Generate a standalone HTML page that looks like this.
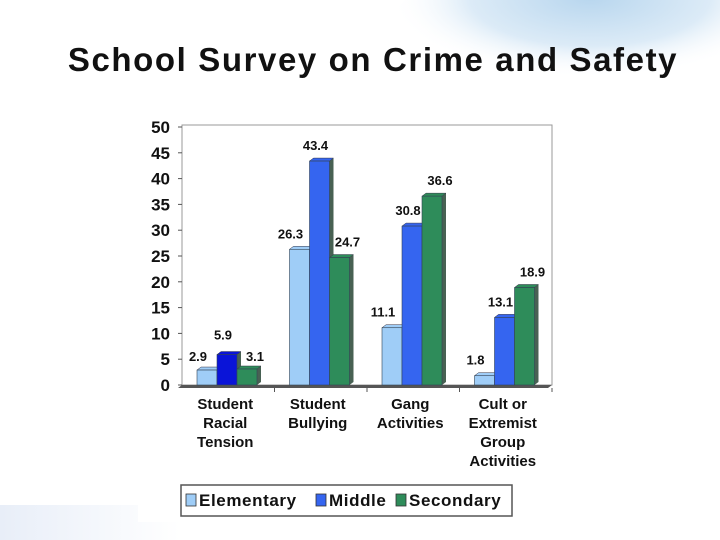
<!DOCTYPE html>
<html><head><meta charset="utf-8"><style>
body{margin:0;width:720px;height:540px;overflow:hidden;background:#fff;font-family:"Liberation Sans",sans-serif;position:relative}
#bg{position:absolute;left:0;top:0;width:720px;height:540px}
#title{position:absolute;left:0;width:746px;top:41px;text-align:center;font-size:33px;font-weight:bold;color:#111;letter-spacing:1.6px}
#chart{position:absolute;left:0;top:0}
</style></head><body>
<svg id="bg" width="720" height="540">
<defs><radialGradient id="cl" cx="0.5" cy="0.3" r="0.5"><stop offset="0" stop-color="#b8d6ee"/><stop offset="0.6" stop-color="#dcebf7"/><stop offset="1" stop-color="#fff" stop-opacity="0"/></radialGradient>
<linearGradient id="bl" x1="0" y1="0" x2="1" y2="0"><stop offset="0" stop-color="#e8eef8"/><stop offset="1" stop-color="#fff"/></linearGradient></defs>
<rect width="720" height="540" fill="#fff"/>
<ellipse cx="590" cy="30" rx="200" ry="80" fill="url(#cl)"/>
<rect x="0" y="505" width="180" height="35" fill="url(#bl)"/>
</svg>
<div id="title">School Survey on Crime and Safety</div>
<svg id="chart" width="720" height="540"></svg>
<script>
const categories=[["Student","Racial","Tension"],["Student","Bullying"],["Gang","Activities"],["Cult or","Extremist","Group","Activities"]];
const seriesNames=["Elementary","Middle","Secondary"];
const elementary=[2.9,26.3,11.1,1.8];
const middle=[5.9,43.4,30.8,13.1];
const secondary=[3.1,24.7,36.6,18.9];
const yTicks=[0,5,10,15,20,25,30,35,40,45,50];
const series=[elementary,middle,secondary];
const colors=["#9fcdf7","#3565f0","#2e8c5a"];
const svg=document.getElementById('chart');
const NS="http://www.w3.org/2000/svg";
function mk(t,a,p){const e=document.createElementNS(NS,t);for(const k in a)e.setAttribute(k,a[k]);(p||svg).appendChild(e);return e;}
const x0=182,x1=552,yb=385,yt=127,ymax=50;
const y=v=>yb-(v/ymax)*(yb-yt);
const catW=(x1-x0)/categories.length;
const bw=20;
const panel=mk('rect',{x:138,y:110,width:422,height:412,fill:'#fff'});


const frame=mk('rect',{x:x0,y:125,width:x1-x0,height:yb-125,fill:'none',stroke:'#999','stroke-width':1});


const floor=mk('polygon',{points:`${x0},${yb} ${x1},${yb} ${x1-4},${yb+3} ${x0-4},${yb+3}`,fill:'#555'});


yTicks.forEach(t=>{
 const tx=mk('text',{x:170,y:y(t)+6,'text-anchor':'end','font-size':17,'font-weight':'bold',fill:'#111'});
 tx.textContent=t;
 
 
 mk('line',{x1:x0-4,x2:x0,y1:y(t),y2:y(t),stroke:'#555'});
});
const labOff=[1,6,18];
categories.forEach((c,i)=>{
 const gx=x0+i*catW+15;
 series.forEach((s,j)=>{
  const v=s[i],bx=gx+j*bw,by=y(v);
  let col=colors[j]; if(i===0&&j===1) col="#0a14d8";
  const g=mk('g',{});
  
  
  mk('polygon',{points:`${bx+bw},${by} ${bx+bw+4},${by-3} ${bx+bw+4},${yb-3} ${bx+bw},${yb}`,fill:'#1a3a28',opacity:0.8},g);
  mk('polygon',{points:`${bx},${by} ${bx+4},${by-3} ${bx+bw+4},${by-3} ${bx+bw},${by}`,fill:col,stroke:'#334',"stroke-width":0.5},g);
  mk('rect',{x:bx,y:by,width:bw,height:yb-by,fill:col,stroke:'#345','stroke-width':0.6},g);
  let ly=by-11;
  if(i===0&&j!==1) ly=y(Math.max(s[i],3.1))-8;
  if(i===0&&j===1) ly=by-15;
  const t=mk('text',{x:bx+labOff[j],y:ly,'text-anchor':'middle','font-size':13,'font-weight':'bold',fill:'#111'});
  t.textContent=v;
  
  
 });
 const cx=x0+(i+0.5)*catW-3;
 mk('line',{x1:x0+(i+1)*catW,x2:x0+(i+1)*catW,y1:yb+3,y2:yb+7,stroke:'#555'});
 c.forEach((ln,k)=>{
  const t=mk('text',{x:cx,y:409+k*19,'text-anchor':'middle','font-size':15,'font-weight':'bold',fill:'#111'});
  t.textContent=ln;
  
  
 });
});
const lg=mk('g',{});


mk('rect',{x:181,y:485,width:331,height:31,fill:'#fff',stroke:'#555','stroke-width':1.5},lg);
const lx=[186,316,396];
seriesNames.forEach((n,j)=>{
 const e=mk('g',{},lg);
 
 
 mk('rect',{x:lx[j],y:494,width:10,height:12,fill:colors[j],stroke:'#333','stroke-width':0.8},e);
 const t=mk('text',{x:lx[j]+13,y:506,'font-size':17,'font-weight':'bold',fill:'#111','letter-spacing':0.6},e);
 t.textContent=n;
});
</script>
</body></html>
